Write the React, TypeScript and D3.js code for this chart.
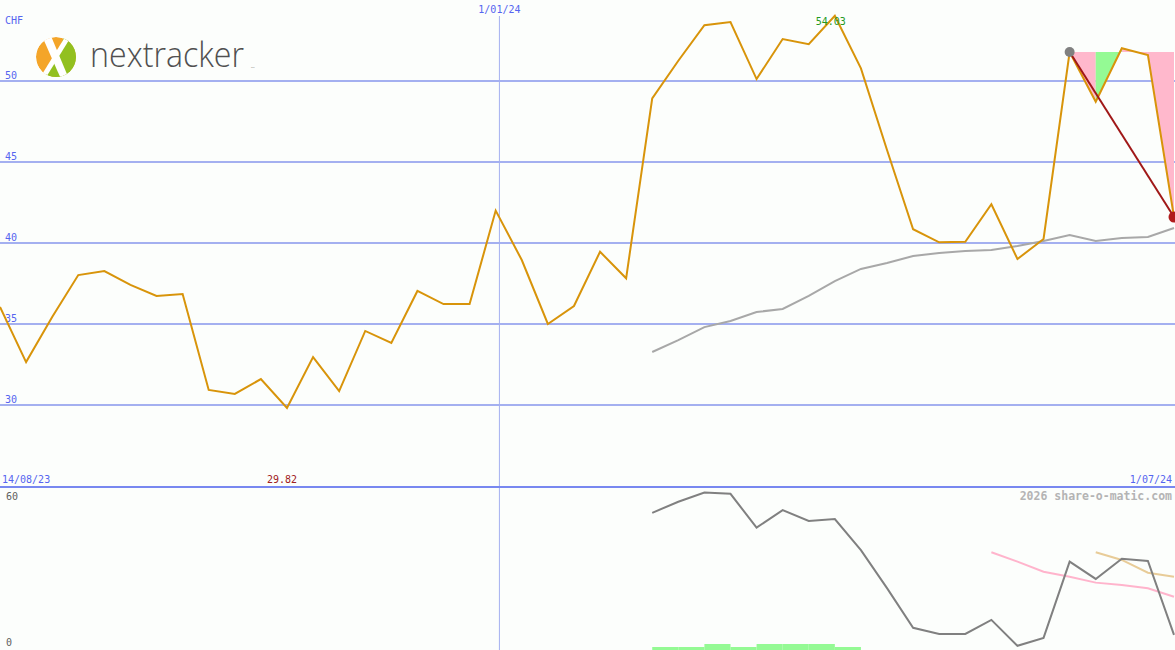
import React, { useEffect, useRef } from 'react';
import * as d3 from 'd3';

// weekly closes, CHF
const startDate = new Date(2023, 7, 20);
const closes = [
  36.05, 32.65, 35.43, 38.02, 38.27, 37.41, 36.73, 36.85, 30.93, 30.68,
  31.6, 29.82, 32.96, 30.86, 34.57, 33.83, 37.04, 36.23, 36.23, 42.0,
  38.95, 35.0, 36.11, 39.46, 37.82, 48.93, 51.25, 53.44, 53.64, 50.12,
  52.59, 52.27, 54.03, 50.78, 45.74, 40.85, 40.04, 40.08, 42.39, 39.01,
  40.25, 51.79, 48.72, 52.02, 51.6, 41.6,
];
// moving average, starts at week 25
const maStart = 25;
const movingAvg = [
  33.27, 34.01, 34.81, 35.19, 35.74, 35.93, 36.73, 37.65, 38.4, 38.77,
  39.2, 39.38, 39.51, 39.57, 39.81, 40.12, 40.49, 40.12, 40.31, 40.37, 40.93,
];
// lower panel
const oscillator = [
  54.8, 59.3, 63.0, 62.5, 48.8, 55.9, 51.5, 52.3, 39.7, 24.3,
  8.2, 5.7, 5.7, 11.4, 0.9, 4.1, 35.0, 28.0, 36.2, 35.3, 5.3,
];
const pinkStart = 38;
const pinkLine = [38.8, 35.0, 30.9, 28.9, 26.5, 25.5, 24.2, 20.8];
const tanStart = 42;
const tanLine = [38.8, 35.7, 30.5, 28.9];
const barStart = 25;
const bars = [0.5, 0.5, 1, 0.5, 1, 1, 1, 0.5];

const yTicks = [30, 35, 40, 45, 50];
const lowerTicks = [0, 60];
const yearMark = new Date(2024, 0, 1);
const signalFrom = 41;
const signalTo = 45;

const W = 1175;
const H = 650;

const App = () => {
  const chartRef = useRef(null);

  useEffect(() => {
    const svg = d3.select(chartRef.current);
    svg.selectAll('*').remove();

    const dates = closes.map((_, i) => d3.timeDay.offset(startDate, i * 7));
    const x = d3.scaleTime().domain([dates[0], dates[dates.length - 1]]).range([0, 1174]);
    const y = d3.scaleLinear().domain([30, 50]).range([405, 81]);
    const y2 = d3.scaleLinear().domain([0, 60]).range([648, 500]);
    const yBar = d3.scaleLinear().domain([0, 1]).range([650, 644]);
    const font = '"DejaVu Sans Mono", monospace';

    svg.append('rect').attr('width', W).attr('height', H).attr('fill', '#fcfefc');

    // grid
    svg.selectAll('.grid')
      .data(yTicks)
      .enter()
      .append('line')
      .attr('x1', 0)
      .attr('x2', W)
      .attr('y1', d => y(d))
      .attr('y2', d => y(d))
      .attr('stroke', '#a4b0f0')
      .attr('stroke-width', 2);

    svg.selectAll('.ylab')
      .data(yTicks)
      .enter()
      .append('text')
      .attr('x', 5)
      .attr('y', d => y(d) - 2)
      .attr('font-family', font)
      .attr('font-size', '10px')
      .attr('fill', '#5565f0')
      .text(d => d);

    svg.append('text').attr('x', 5).attr('y', 24)
      .attr('font-family', font).attr('font-size', '10px').attr('fill', '#5565f0')
      .text('CHF');

    // year marker
    svg.append('line')
      .attr('x1', x(yearMark)).attr('x2', x(yearMark))
      .attr('y1', 16).attr('y2', H)
      .attr('stroke', '#a4b0f0').attr('stroke-width', 1);
    svg.append('text').attr('x', x(yearMark)).attr('y', 13)
      .attr('text-anchor', 'middle')
      .attr('font-family', font).attr('font-size', '10px').attr('fill', '#5565f0')
      .text('1/01/24');

    // separator
    svg.append('line').attr('x1', 0).attr('x2', W).attr('y1', 487).attr('y2', 487)
      .attr('stroke', '#7888f0').attr('stroke-width', 2);

    // fills between signal level and price
    const level = closes[signalFrom];
    for (let i = signalFrom; i < signalTo; i++) {
      const pts: [number, number][] = [
        [x(dates[i]), y(level)],
        [x(dates[i]), y(closes[i])],
        [x(dates[i + 1]), y(closes[i + 1])],
        [x(dates[i + 1]), y(level)],
      ];
      svg.append('path')
        .attr('d', 'M' + pts.join('L') + 'Z')
        .attr('fill', closes[i + 1] > closes[i] ? '#94fa94' : '#ffb8cc');
    }

    // moving average
    svg.append('path')
      .datum(movingAvg)
      .attr('d', d3.line<number>().x((_, i) => x(dates[i + maStart])).y(d => y(d)))
      .attr('fill', 'none').attr('stroke', '#a8a8a8').attr('stroke-width', 2);

    // price
    svg.append('path')
      .datum(closes)
      .attr('d', d3.line<number>().x((_, i) => x(dates[i])).y(d => y(d)))
      .attr('fill', 'none').attr('stroke', '#d8940a').attr('stroke-width', 2);

    // signal line
    svg.append('line')
      .attr('x1', x(dates[signalFrom])).attr('y1', y(closes[signalFrom]))
      .attr('x2', x(dates[signalTo])).attr('y2', y(closes[signalTo]))
      .attr('stroke', '#a01818').attr('stroke-width', 2);
    svg.append('circle').attr('cx', x(dates[signalFrom])).attr('cy', y(closes[signalFrom]))
      .attr('r', 5).attr('fill', '#808080');
    svg.append('circle').attr('cx', x(dates[signalTo])).attr('cy', y(closes[signalTo]))
      .attr('r', 5.5).attr('fill', '#b01c1c');

    // max / min labels
    const maxI = d3.maxIndex(closes);
    const minI = d3.minIndex(closes);
    svg.append('text').attr('x', x(dates[maxI]) - 4).attr('y', 25)
      .attr('text-anchor', 'middle')
      .attr('font-family', font).attr('font-size', '10px').attr('fill', '#229922')
      .text(closes[maxI].toFixed(2));
    svg.append('text').attr('x', x(dates[minI]) - 5).attr('y', 483)
      .attr('text-anchor', 'middle')
      .attr('font-family', font).attr('font-size', '10px').attr('fill', '#a02020')
      .text(closes[minI].toFixed(2));

    svg.append('text').attr('x', 2).attr('y', 483)
      .attr('font-family', font).attr('font-size', '10px').attr('fill', '#5565f0')
      .text('14/08/23');
    svg.append('text').attr('x', 1172).attr('y', 483).attr('text-anchor', 'end')
      .attr('font-family', font).attr('font-size', '10px').attr('fill', '#5565f0')
      .text('1/07/24');
    svg.append('text').attr('x', 1172).attr('y', 500).attr('text-anchor', 'end')
      .attr('font-family', font).attr('font-size', '11.5px').attr('font-weight', 'bold')
      .attr('fill', '#b4b4b4')
      .text('2026 share-o-matic.com');

    // lower panel
    svg.selectAll('.l2lab')
      .data(lowerTicks)
      .enter()
      .append('text')
      .attr('x', 6)
      .attr('y', d => (d === 0 ? 646 : 500))
      .attr('font-family', font)
      .attr('font-size', '10px')
      .attr('fill', '#606060')
      .text(d => d);

    svg.selectAll('.bar')
      .data(bars)
      .enter()
      .append('rect')
      .attr('x', (_, i) => x(dates[i + barStart]))
      .attr('width', (_, i) => x(dates[i + barStart + 1]) - x(dates[i + barStart]))
      .attr('y', d => yBar(d))
      .attr('height', d => yBar(0) - yBar(d))
      .attr('fill', '#94fa94');

    svg.append('path')
      .datum(pinkLine)
      .attr('d', d3.line<number>().x((_, i) => x(dates[i + pinkStart])).y(d => y2(d)))
      .attr('fill', 'none').attr('stroke', '#ffb4cc').attr('stroke-width', 2);
    svg.append('path')
      .datum(tanLine)
      .attr('d', d3.line<number>().x((_, i) => x(dates[i + tanStart])).y(d => y2(d)))
      .attr('fill', 'none').attr('stroke', '#e8cc98').attr('stroke-width', 2);
    svg.append('path')
      .datum(oscillator)
      .attr('d', d3.line<number>().x((_, i) => x(dates[i + maStart])).y(d => y2(d)))
      .attr('fill', 'none').attr('stroke', '#808080').attr('stroke-width', 2);

    // logo
    const logo = svg.append('g').attr('transform', 'translate(56,57)');
    logo.append('clipPath').attr('id', 'logoClip')
      .append('circle').attr('r', 20);
    const lg = logo.append('g').attr('clip-path', 'url(#logoClip)');
    lg.append('circle').attr('r', 20).attr('fill', '#f4a529');
    lg.append('path').attr('d', 'M9,-22 L24,-22 L24,24 L-14,24 L-2,3 Z').attr('fill', '#92c01f');
    lg.append('path').attr('d', 'M-14,-21 L-5,-21 L13,22 L5,22 Z').attr('fill', '#fff');
    lg.append('path').attr('d', 'M9,-20 L13,-17 L-11,22 L-15,19 Z').attr('fill', '#fff');
    svg.append('text').attr('x', 90).attr('y', 67)
      .attr('font-family', '"Open Sans", Lato, sans-serif')
      .attr('font-weight', 300)
      .attr('font-size', '34px')
      .attr('fill', '#505050')
      .attr('textLength', 154)
      .attr('lengthAdjust', 'spacingAndGlyphs')
      .text('nextracker');
    svg.append('text').attr('x', 251).attr('y', 68)
      .attr('font-family', 'sans-serif').attr('font-size', '2.5px').attr('fill', '#777')
      .text('TM');
  }, []);

  return (
    <svg
      ref={chartRef}
      width={W}
      height={H}
      style={{ position: 'absolute', left: 0, top: 0, display: 'block' }}
    ></svg>
  );
};

export default App;
